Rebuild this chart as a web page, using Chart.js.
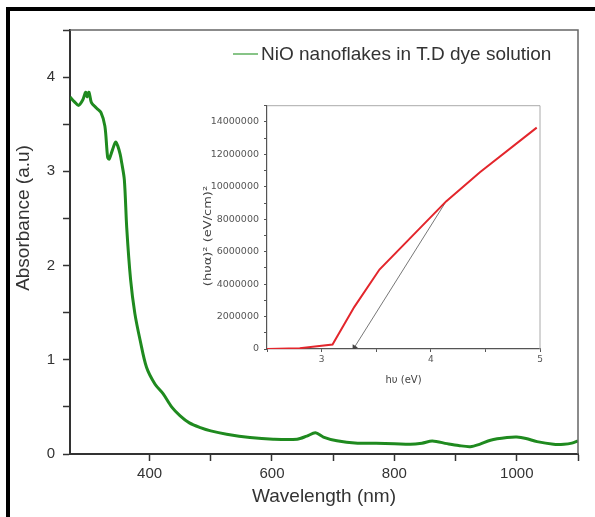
<!DOCTYPE html>
<html>
<head>
<meta charset="utf-8">
<script src="https://cdn.jsdelivr.net/npm/chart.js@4.4.1/dist/chart.umd.min.js"></script>
<style>
    body { margin: 0; background: #fff; }
    #wrap { position: relative; width: 595px; height: 517px; overflow: hidden; background: #fff; }
    #frame { position: absolute; left: 6px; top: 7px; right: -10px; bottom: -10px; border-top: 4px solid #000; border-left: 4px solid #000; }
    #mainChart { position: absolute; left: 0; top: 0; }
    #insetChart { position: absolute; left: 195px; top: 95px; }
</style>
</head>
<body>
<div id="wrap">
    <div id="frame"></div>
    <canvas id="mainChart" width="595" height="517"></canvas>
    <canvas id="insetChart" width="370" height="305"></canvas>
</div>
<script>
// --- DATA: main absorbance spectrum ---
const wavelength = [270, 277, 284, 291, 295.5, 298, 301, 305, 313.5, 320.5, 327, 331.5, 334, 339, 344.5, 348, 352, 354.5, 358.8, 362.7, 369, 376, 384.5, 395, 409, 422, 436, 450, 465, 483, 500, 526, 564, 602, 641, 657, 671, 684, 706, 740, 770, 800, 826, 845, 862, 886, 905, 924, 940, 957, 984, 1000, 1015, 1033, 1060, 1077, 1090, 1100];
const absorbance = [3.79, 3.74, 3.70, 3.76, 3.84, 3.79, 3.84, 3.73, 3.67, 3.625, 3.48, 3.15, 3.13, 3.22, 3.31, 3.27, 3.18, 3.09, 2.91, 2.40, 1.85, 1.49, 1.21, 0.92, 0.74, 0.64, 0.50, 0.405, 0.33, 0.28, 0.245, 0.21, 0.175, 0.157, 0.157, 0.19, 0.225, 0.18, 0.14, 0.115, 0.114, 0.11, 0.103, 0.115, 0.138, 0.11, 0.09, 0.078, 0.105, 0.146, 0.174, 0.18, 0.165, 0.131, 0.103, 0.103, 0.115, 0.139];
const seriesLabel = 'NiO nanoflakes in T.D dye solution';
const xLabeled = [400, 600, 800, 1000];
const yLabeled = [0, 1, 2, 3, 4];

// --- DATA: inset Tauc plot ---
const photonEnergy = [2.5, 2.8, 3.1, 3.3, 3.53, 4.14, 4.45, 4.97];
const taucValue = [0, 50000, 280000, 2600000, 4900000, 9100000, 10900000, 13650000];
const arrowEnergy = [4.14, 3.3];
const arrowValue = [9100000, 100000];
const insetXLabeled = [3, 4, 5];

const SANS = '"Liberation Sans", Arial, sans-serif';
const DEJAVU = '"DejaVu Sans", sans-serif';

Chart.defaults.font.family = SANS;
Chart.defaults.color = '#333';

function toPoints(xs, ys) {
    return xs.map((x, i) => ({ x: x, y: ys[i] }));
}

// draws the top/right box lines, legend and axis titles of the main plot
const mainDecor = {
    id: 'mainDecor',
    afterDraw(chart) {
        const ctx = chart.ctx;
        const a = chart.chartArea;
        ctx.save();
        ctx.strokeStyle = '#666';
        ctx.lineWidth = 1.5;
        ctx.beginPath();
        ctx.moveTo(a.left, a.top);
        ctx.lineTo(a.right, a.top);
        ctx.lineTo(a.right, a.bottom);
        ctx.stroke();

        // legend
        ctx.strokeStyle = '#5fb05f';
        ctx.lineWidth = 1.5;
        ctx.beginPath();
        ctx.moveTo(233, 54);
        ctx.lineTo(258, 54);
        ctx.stroke();
        ctx.fillStyle = '#333';
        ctx.font = '19px ' + SANS;
        ctx.textBaseline = 'middle';
        ctx.textAlign = 'left';
        ctx.fillText(seriesLabel, 261, 55);

        // axis titles
        ctx.textAlign = 'center';
        ctx.fillText('Wavelength (nm)', (a.left + a.right) / 2, 497);
        ctx.translate(24, 218);
        ctx.rotate(-Math.PI / 2);
        ctx.fillText('Absorbance (a.u)', 0, 0);
        ctx.restore();
    }
};

const insetDecor = {
    id: 'insetDecor',
    afterDraw(chart) {
        const ctx = chart.ctx;
        const a = chart.chartArea;
        ctx.save();
        ctx.strokeStyle = '#aaa';
        ctx.lineWidth = 1;
        ctx.beginPath();
        ctx.moveTo(a.left, a.top);
        ctx.lineTo(a.right, a.top);
        ctx.lineTo(a.right, a.bottom);
        ctx.stroke();

        ctx.fillStyle = '#444';
        ctx.font = '10px ' + DEJAVU;
        ctx.textBaseline = 'middle';
        ctx.textAlign = 'center';
        ctx.fillText('hυ (eV)', (a.left + a.right) / 2, 285);
        ctx.translate(13, 141);
        ctx.rotate(-Math.PI / 2);
        ctx.scale(1.3, 1);
        ctx.fillText('(hυα)² (eV/cm)²', 0, 0);
        ctx.restore();
    }
};

// --- MAIN CHART ---
new Chart(document.getElementById('mainChart'), {
    type: 'line',
    data: {
        datasets: [{
            label: seriesLabel,
            data: toPoints(wavelength, absorbance),
            borderColor: '#1f8a1f',
            borderWidth: 3,
            pointRadius: 0,
            tension: 0.3,
            fill: false
        }]
    },
    options: {
        responsive: false,
        animation: false,
        devicePixelRatio: 1,
        layout: { padding: { top: 30, right: 17, left: 0, bottom: 0 } },
        plugins: { legend: { display: false }, tooltip: { enabled: false } },
        scales: {
            x: {
                type: 'linear',
                min: 270,
                max: 1100,
                afterBuildTicks(scale) {
                    scale.ticks = scale.ticks.filter(t => t.value % 100 === 0);
                },
                afterFit(scale) { scale.height = 63; },
                ticks: {
                    stepSize: 100,
                    autoSkip: false,
                    maxRotation: 0,
                    padding: 4,
                    font: { size: 15 },
                    color: '#333',
                    callback: v => xLabeled.includes(v) ? String(v) : ''
                },
                grid: { drawOnChartArea: false, drawTicks: true, tickLength: 7, tickColor: '#333', tickWidth: 1.5 },
                border: { display: true, color: '#333', width: 2 }
            },
            y: {
                type: 'linear',
                min: 0,
                max: 4.5,
                afterFit(scale) { scale.width = 70; },
                ticks: {
                    stepSize: 0.5,
                    autoSkip: false,
                    padding: 8,
                    font: { size: 15 },
                    color: '#333',
                    callback: v => yLabeled.includes(v) ? String(v) : ''
                },
                grid: { drawOnChartArea: false, drawTicks: true, tickLength: 7, tickColor: '#333', tickWidth: 1.5 },
                border: { display: true, color: '#333', width: 2 }
            }
        }
    },
    plugins: [mainDecor]
});

// --- INSET CHART ---
new Chart(document.getElementById('insetChart'), {
    type: 'line',
    data: {
        datasets: [{
            data: toPoints(photonEnergy, taucValue),
            borderColor: '#e3262c',
            borderWidth: 2,
            pointRadius: 0,
            tension: 0,
            fill: false
        }, {
            data: toPoints(arrowEnergy, arrowValue),
            borderColor: '#777',
            borderWidth: 1,
            pointRadius: [0, 3.5],
            pointStyle: 'triangle',
            pointRotation: 211,
            pointBackgroundColor: '#444',
            pointBorderColor: '#444',
            pointBorderWidth: 0,
            tension: 0,
            fill: false
        }]
    },
    options: {
        responsive: false,
        animation: false,
        devicePixelRatio: 1,
        layout: { padding: { top: 7, right: 25, left: 0, bottom: 0 } },
        plugins: { legend: { display: false }, tooltip: { enabled: false } },
        scales: {
            x: {
                type: 'linear',
                min: 2.5,
                max: 5,
                afterFit(scale) { scale.height = 51; },
                ticks: {
                    stepSize: 0.5,
                    autoSkip: false,
                    maxRotation: 0,
                    padding: 2,
                    font: { family: DEJAVU, size: 9 },
                    color: '#555',
                    callback: v => insetXLabeled.includes(v) ? String(v) : ''
                },
                grid: { drawOnChartArea: false, drawTicks: true, tickLength: 3, tickColor: '#555', tickWidth: 1 },
                border: { display: true, color: '#555', width: 1.2 }
            },
            y: {
                type: 'linear',
                min: 0,
                max: 15000000,
                afterFit(scale) { scale.width = 72; },
                ticks: {
                    stepSize: 1000000,
                    autoSkip: false,
                    padding: 5,
                    font: { family: DEJAVU, size: 9.5 },
                    color: '#555',
                    callback: v => v % 2000000 === 0 ? String(v) : ''
                },
                grid: { drawOnChartArea: false, drawTicks: true, tickLength: 3, tickColor: '#555', tickWidth: 1 },
                border: { display: true, color: '#555', width: 1.2 }
            }
        }
    },
    plugins: [insetDecor]
});
</script>
</body>
</html>
